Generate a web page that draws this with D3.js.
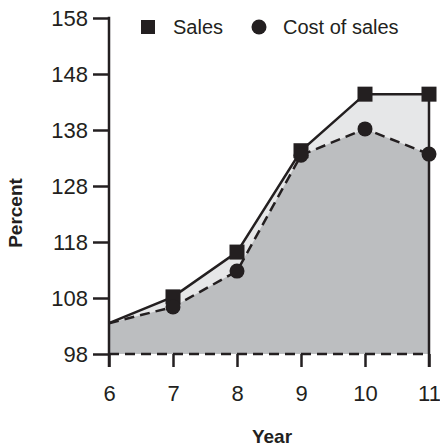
<!DOCTYPE html>
<html><head><meta charset="utf-8">
<script src="https://cdn.jsdelivr.net/npm/d3@7"></script>
<style>body{margin:0;background:#fff}svg{display:block}</style>
</head><body>
<svg id="c" width="440" height="447"></svg>
<script>
const years = [6, 7, 8, 9, 10, 11];
const sales = [103.5, 108.2, 116.2, 134.3, 144.4, 144.4];
const cost = [103.5, 106.4, 112.8, 133.5, 138.2, 133.7];
const yTicks = [98, 108, 118, 128, 138, 148, 158];
const xTicks = [6, 7, 8, 9, 10, 11];
const seriesNames = ["Sales", "Cost of sales"];

const ink = "#231f20";
const font = "'Liberation Sans', Arial, sans-serif";
const svg = d3.select("#c");
const x = d3.scaleLinear().domain([6, 11]).range([109, 429]);
const y = d3.scaleLinear().domain([98, 158]).range([354, 18]);

const sData = years.map((d, i) => ({ x: d, v: sales[i] }));
const cData = years.map((d, i) => ({ x: d, v: cost[i] }));

const area = d3.area().x(d => x(d.x)).y0(y(98)).y1(d => y(d.v));
const line = d3.line().x(d => x(d.x)).y(d => y(d.v));

svg.append("path").attr("d", area(sData)).attr("fill", "#e6e7e8");
svg.append("path").attr("d", area(cData)).attr("fill", "#bcbec0");

// baseline dashed
svg.append("line").attr("x1", x(6)).attr("x2", x(11)).attr("y1", y(98)).attr("y2", y(98))
  .attr("stroke", ink).attr("stroke-width", 2.5).attr("stroke-dasharray", "10,6");

svg.append("path").attr("d", line(cData)).attr("fill", "none").attr("stroke", ink)
  .attr("stroke-width", 2.5).attr("stroke-dasharray", "10,6");
svg.append("path").attr("d", line(sData)).attr("fill", "none").attr("stroke", ink)
  .attr("stroke-width", 2.5);

// right edge
svg.append("line").attr("x1", x(11)).attr("x2", x(11)).attr("y1", y(sales[5])).attr("y2", y(98) + 13)
  .attr("stroke", ink).attr("stroke-width", 2.5);

// y axis
const yAxis = d3.axisLeft(y).tickValues(yTicks).tickSize(16).tickPadding(5).tickFormat(d3.format("d"));
const gy = svg.append("g").attr("transform", `translate(${x(6)},0)`).call(yAxis);
gy.select(".domain").remove();
gy.selectAll(".tick line").attr("stroke", ink).attr("stroke-width", 2.5);
gy.selectAll(".tick text").attr("font-family", font).attr("font-size", 22).attr("fill", ink).attr("dy", "0.36em");
svg.append("line").attr("x1", x(6)).attr("x2", x(6)).attr("y1", y(158) - 1.25).attr("y2", y(98) + 13)
  .attr("stroke", ink).attr("stroke-width", 2.5);

// x axis
const xAxis = d3.axisBottom(x).tickValues(xTicks).tickSize(13).tickPadding(18).tickFormat(d3.format("d"));
const gx = svg.append("g").attr("transform", `translate(0,${y(98)})`).call(xAxis);
gx.select(".domain").remove();
gx.selectAll(".tick line").attr("stroke", ink).attr("stroke-width", 2.5);
gx.selectAll(".tick text").attr("font-family", font).attr("font-size", 22).attr("fill", ink);

// markers (skip first year)
const sq = 15;
svg.append("g").selectAll("rect").data(sData.slice(1)).join("rect")
  .attr("x", d => x(d.x) - sq / 2).attr("y", d => y(d.v) - sq / 2)
  .attr("width", sq).attr("height", sq).attr("fill", ink);
svg.append("g").selectAll("circle").data(cData.slice(1)).join("circle")
  .attr("cx", d => x(d.x)).attr("cy", d => y(d.v)).attr("r", 7.5).attr("fill", ink);

// axis titles
svg.append("text").attr("x", 272).attr("y", 443).attr("text-anchor", "middle")
  .attr("font-family", font).attr("font-weight", "bold").attr("font-size", 19).attr("fill", ink).text("Year");
svg.append("text").attr("transform", "translate(22,213) rotate(-90)").attr("text-anchor", "middle")
  .attr("font-family", font).attr("font-weight", "bold").attr("font-size", 19).attr("fill", ink).text("Percent");

// legend
const lg = svg.append("g");
lg.append("rect").attr("x", 141).attr("y", 20).attr("width", 14).attr("height", 14).attr("fill", ink);
lg.append("text").attr("x", 173).attr("y", 34).attr("font-family", font).attr("font-size", 20).attr("fill", ink).text(seriesNames[0]);
lg.append("circle").attr("cx", 259).attr("cy", 27).attr("r", 7.5).attr("fill", ink);
lg.append("text").attr("x", 283).attr("y", 34).attr("font-family", font).attr("font-size", 20).attr("fill", ink).text(seriesNames[1]);
</script>
</body></html>
